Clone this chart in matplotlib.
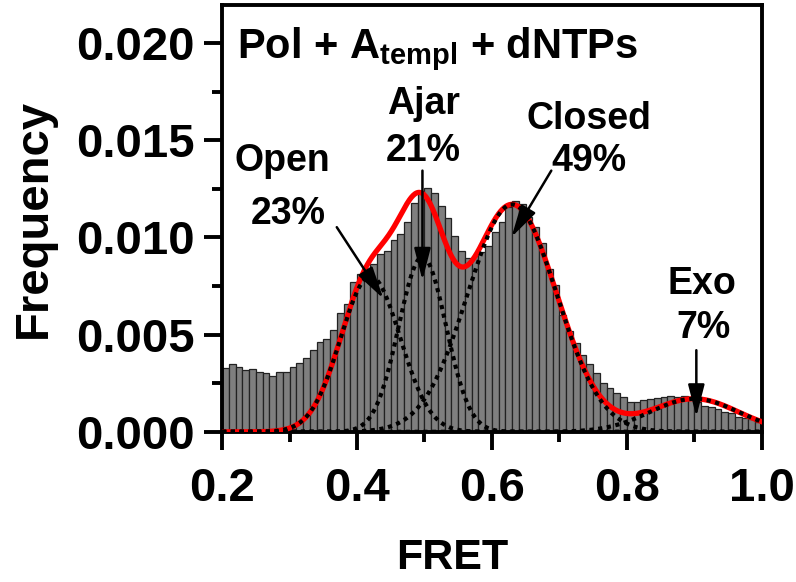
import numpy as np
import matplotlib
matplotlib.use("Agg")
import matplotlib.pyplot as plt
from matplotlib.ticker import MultipleLocator

plt.rcParams['font.family'] = ['Liberation Sans', 'DejaVu Sans']
plt.rcParams['font.weight'] = 'bold'
plt.rcParams['mathtext.fontset'] = 'custom'
plt.rcParams['mathtext.rm'] = 'Liberation Sans:bold'
plt.rcParams['mathtext.bf'] = 'Liberation Sans:bold'
plt.rcParams['mathtext.it'] = 'Liberation Sans:bold'

# FRET histogram, bins of 0.01 from 0.20 to 1.00
bin_left = np.round(np.arange(0.20, 1.00, 0.01), 2)
freq = [
    0.00327, 0.00347, 0.00335, 0.00318, 0.00323, 0.00309, 0.00301, 0.00287, 0.00309, 0.00309,
    0.00332, 0.00352, 0.00378, 0.00420, 0.00460, 0.00480, 0.00523, 0.00614, 0.00656, 0.00771,
    0.00810, 0.00840, 0.00865, 0.00913, 0.00933, 0.00985, 0.01019, 0.01080, 0.01175, 0.01237,
    0.01255, 0.01227, 0.01164, 0.01101, 0.01010, 0.00933, 0.00896, 0.00903, 0.00925, 0.00954,
    0.01027, 0.01082, 0.01155, 0.01186, 0.01170, 0.01108, 0.01053, 0.00971, 0.00839, 0.00754,
    0.00600, 0.00520, 0.00455, 0.00395, 0.00350, 0.00304, 0.00253, 0.00224, 0.00198, 0.00178,
    0.00156, 0.00152, 0.00164, 0.00168, 0.00173, 0.00178, 0.00185, 0.00180, 0.00185, 0.00180,
    0.00156, 0.00133, 0.00127, 0.00116, 0.00104, 0.00099, 0.00078, 0.00070, 0.00065, 0.00053,
]

# gaussian components: name, percent, center, amplitude, sigma
states = ['Open', 'Ajar', 'Closed', 'Exo']
percents = [23, 21, 49, 7]
centers = [0.420, 0.497, 0.630, 0.900]
amps = [0.0080, 0.0090, 0.0117, 0.0017]
sigmas = [0.044, 0.035, 0.066, 0.065]

x = np.linspace(0.2, 1.0, 600)
comps = [a * np.exp(-(x - c) ** 2 / (2 * s ** 2)) for c, a, s in zip(centers, amps, sigmas)]
total = np.sum(comps, axis=0)

fig = plt.figure(figsize=(7.96, 5.82), dpi=100)
ax = fig.add_axes([0.279, 0.258, 0.678, 0.733])

ax.bar(bin_left, freq, width=0.01, align='edge', color='#7f7f7f',
       edgecolor='#222222', linewidth=0.9)
ax.plot(x, total, color='#ff0000', lw=3.8, zorder=3)
for y in comps:
    ax.plot(x, y, color='black', lw=3.0, linestyle=(0, (1, 1.1)), zorder=4)

ax.set_xlim(0.2, 1.0)
ax.set_ylim(0, 0.02195)
ax.xaxis.set_minor_locator(MultipleLocator(0.1))
ax.yaxis.set_minor_locator(MultipleLocator(0.0025))
ax.set_xticks([0.2, 0.4, 0.6, 0.8, 1.0])
ax.set_xticklabels(['0.2', '0.4', '0.6', '0.8', '1.0'])
ax.set_yticks([0, 0.005, 0.010, 0.015, 0.020])
ax.set_yticklabels(['0.000', '0.005', '0.010', '0.015', '0.020'])
ax.tick_params(which='major', direction='out', length=13, width=2.8, labelsize=34)
ax.tick_params(axis='x', which='major', pad=12)
ax.tick_params(axis='y', which='major', pad=7)
ax.tick_params(which='minor', direction='out', length=7, width=2.8)
for sp in ax.spines.values():
    sp.set_linewidth(2.8)

ax.set_xlabel('FRET', fontsize=31, fontweight='bold')
ax.xaxis.set_label_coords(0.426, -0.248)
ax.set_ylabel('Frequency', fontsize=34, fontweight='bold', labelpad=14)

ax.text(0.222, 0.0197, r'Pol + A$_{\mathbf{templ}}$ + dNTPs', fontsize=30,
        fontweight='bold', ha='left', va='center')

# state labels with arrows pointing at each component
label_pos = [(0.290, 0.01395), (0.498, 0.01687), (0.744, 0.0161), (0.911, 0.00763)]
pct_pos = [(0.298, 0.01123), (0.498, 0.01446), (0.744, 0.01395), (0.913, 0.00533)]
arrow_from = [(0.370, 0.01053), (0.497, 0.01344), (0.688, 0.01344), (0.903, 0.00420)]
arrow_to = [(0.439, 0.00686), (0.497, 0.00780), (0.629, 0.01002), (0.903, 0.00078)]

for name, pct, lp, pp, a0, a1 in zip(states, percents, label_pos, pct_pos, arrow_from, arrow_to):
    ax.text(lp[0], lp[1], name, fontsize=27, fontweight='bold', ha='center', va='center')
    ax.text(pp[0], pp[1], '%d%%' % pct, fontsize=27, fontweight='bold', ha='center', va='center')
    ax.annotate('', xy=a1, xytext=a0,
                arrowprops=dict(arrowstyle='-|>,head_length=0.7,head_width=0.18',
                                color='black', lw=1.8, mutation_scale=28,
                                shrinkA=0, shrinkB=0), zorder=5)

fig.savefig('out.png', dpi=100)
